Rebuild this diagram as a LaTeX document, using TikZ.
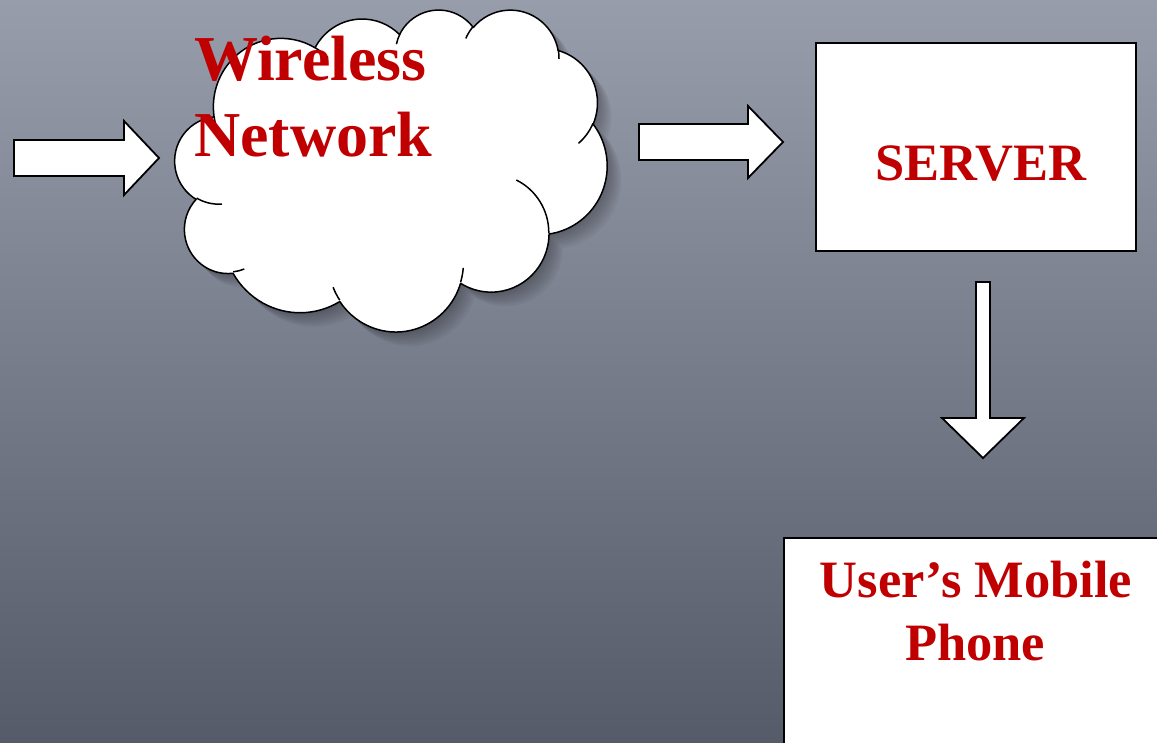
\documentclass[tikz,border=0pt]{standalone}
\usepackage{fontspec}
\setmainfont{Liberation Serif}
\definecolor{txtred}{HTML}{C00000}
\definecolor{bgtop}{RGB}{152,157,171}
\definecolor{bgbot}{RGB}{86,91,106}
\newcommand\cldcalc[5]{%
  \pgfmathsetmacro\cldS{atan2(#2*sin(#4),#3*cos(#4))}%
  \pgfmathsetmacro\cldE{atan2(#2*sin(#4+#5),#3*cos(#4+#5))}%
  \pgfmathsetmacro\cldD{mod(\cldE-\cldS+720,360)}%
  \expandafter\xdef\csname cldS#1\endcsname{\cldS}%
  \expandafter\xdef\csname cldD#1\endcsname{\cldD}%
}
\newcommand\cldv[1]{\csname cld#1\endcsname}
\newcommand\carc[3]{arc[start angle=\cldv{S#1}, delta angle=\cldv{D#1}, x radius=#2, y radius=#3]}
\newcommand\cloudpath{(39.00,143.70)
  \carc{a}{67.53}{91.90} \carc{b}{53.33}{72.67} \carc{c}{43.65}{59.45}
  \carc{d}{48.57}{65.95} \carc{e}{53.33}{72.73} \carc{f}{67.75}{92.20}
  \carc{g}{57.85}{78.67} \carc{h}{67.52}{92.15} \carc{i}{77.20}{105.43}
  \carc{j}{43.60}{59.18} \carc{k}{43.45}{59.45} -- cycle}
\tikzset{
  blockarrow/.style={draw=black, fill=white, line width=1.8pt, line join=miter},
  boxnode/.style={draw=black, fill=white, line width=2pt, inner sep=0pt, anchor=north west},
  bigtxt/.style={text=txtred, font=\fontsize{64}{76}\selectfont\bfseries, inner sep=0pt},
  midtxt/.style={text=txtred, font=\fontsize{52.5}{63}\selectfont\bfseries, inner sep=0pt, anchor=base}
}
\begin{document}
\begin{tikzpicture}[x=1pt,y=-1pt]
% arc computations (OOXML visual angles -> parametric angles)
\cldcalc{a}{67.53}{91.90}{-190.4875}{123.7805}
\cldcalc{b}{53.33}{72.67}{-144.1024}{89.9452}
\cldcalc{c}{43.65}{59.45}{-145.8079}{99.7230}
\cldcalc{d}{48.57}{65.95}{-130.9861}{117.2417}
\cldcalc{e}{53.33}{72.73}{-78.7089}{109.0269}
\cldcalc{f}{67.75}{92.20}{-46.2673}{130.2690}
\cldcalc{g}{57.85}{78.67}{0.6250}{114.0333}
\cldcalc{h}{67.52}{92.15}{22.4516}{115.1726}
\cldcalc{i}{77.20}{105.43}{66.2426}{75.7110}
\cldcalc{j}{43.60}{59.18}{-274.9421}{146.7356}
\cldcalc{k}{43.45}{59.45}{-246.8285}{152.5189}
% inner arcs
\cldcalc{m1}{43.45}{59.45}{86.742}{26.4295}
\cldcalc{m2}{43.60}{59.18}{73.6105}{11.4475}
\cldcalc{m3}{67.52}{92.15}{137.6242}{14.0811}
\cldcalc{m4}{67.52}{92.15}{6.4533}{15.9984}
\cldcalc{m5}{57.85}{78.67}{-70.2924}{70.9174}
\cldcalc{m6}{53.33}{72.73}{30.3180}{27.7515}
\cldcalc{m7}{48.57}{65.95}{-13.7443}{14.8589}
\cldcalc{m8}{48.57}{65.95}{-149.1815}{18.1954}
\cldcalc{m9}{43.65}{59.45}{-163.4943}{17.6864}
\cldcalc{m10}{67.53}{91.90}{-66.7070}{12.3194}
\cldcalc{m11}{67.53}{91.90}{157.6544}{11.8582}

\path[use as bounding box] (0,0) rectangle (1157,742);
\clip (0,0) rectangle (1157,742);
\shade[top color=bgtop, bottom color=bgbot] (0,0) rectangle (1157,742);

% cloud
\begin{scope}[shift={(175pt,-9pt)}, x=1.0pt, y=-0.745pt]
  \foreach \d in {2,4,6,8,10,12,14}{
    \fill[black, opacity=0.045, shift={(\d pt,-\d pt)}] \cloudpath;
  }
  \draw[black, line width=1.5pt, fill=white, line join=round] \cloudpath;
  \draw[black, line width=1.5pt]
    (46.93,261.77) \carc{m1}{43.45}{59.45}
    (69.28,348.99) \carc{m2}{43.60}{59.18}
    (164.78,390.90) \carc{m3}{67.52}{92.15}
    (288.27,347.51) \carc{m4}{67.52}{92.15}
    (341.29,229.54) \carc{m5}{57.85}{78.67}
    (417.98,153.54) \carc{m6}{53.33}{72.73}
    (383.24,54.26) \carc{m7}{48.57}{65.95}
    (290.78,39.52) \carc{m8}{48.57}{65.95}
    (221.41,47.20) \carc{m9}{43.65}{59.45}
    (140.00,51.92) \carc{m10}{67.53}{91.90}
    (41.27,157.89) \carc{m11}{67.53}{91.90};
\end{scope}
\node[bigtxt, anchor=base west] (wl1) at (194,80) {Wireless};
\node[bigtxt, anchor=base west] (wl2) at (194,156) {Network};

% block arrows
\draw[blockarrow] (14,140) -- (124,140) -- (124,121) -- (159,158) -- (124,195) -- (124,176) -- (14,176) -- cycle;
\draw[blockarrow] (639,124) -- (748,124) -- (748,106) -- (783,142) -- (748,178) -- (748,160) -- (639,160) -- cycle;
\draw[blockarrow] (976,282) -- (990,282) -- (990,418) -- (1024,418) -- (983,458) -- (942,418) -- (976,418) -- cycle;

% server
\node[boxnode, minimum width=320pt, minimum height=208pt] (server) at (815,42) {};
\node[midtxt] (servertxt) at (981,180) {SERVER};

% phone
\node[boxnode, minimum width=420pt, minimum height=260pt] (phone) at (783,537) {};
\node[midtxt] (phonetxt1) at (976,597) {User’s Mobile};
\node[midtxt] (phonetxt2) at (975,660) {Phone};
\end{tikzpicture}
\end{document}
